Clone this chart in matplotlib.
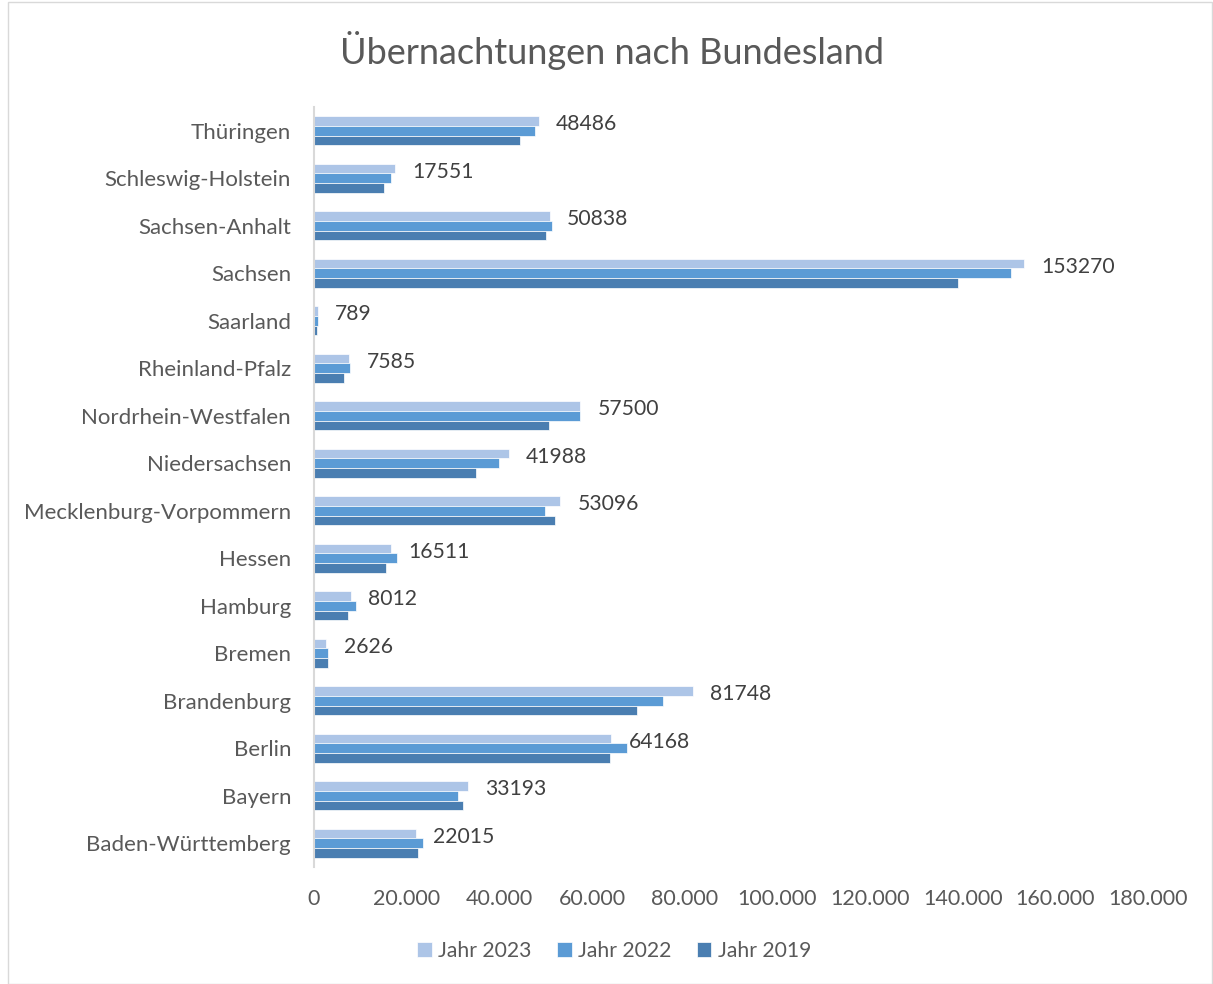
import matplotlib
matplotlib.use("Agg")
import matplotlib.pyplot as plt
import numpy as np
from matplotlib.patches import Rectangle

plt.rcParams['font.family'] = ['Lato', 'DejaVu Sans']

states = ["Baden-Württemberg", "Bayern", "Berlin", "Brandenburg", "Bremen", "Hamburg",
          "Hessen", "Mecklenburg-Vorpommern", "Niedersachsen", "Nordrhein-Westfalen",
          "Rheinland-Pfalz", "Saarland", "Sachsen", "Sachsen-Anhalt",
          "Schleswig-Holstein", "Thüringen"]
jahr_2023 = [22015, 33193, 64168, 81748, 2626, 8012, 16511, 53096, 41988, 57500,
             7585, 789, 153270, 50838, 17551, 48486]
jahr_2022 = [23530, 31080, 67560, 75400, 3090, 9070, 17920, 49930, 39930, 57450,
             7700, 800, 150440, 51370, 16550, 47700]
jahr_2019 = [22520, 32230, 63890, 69650, 2950, 7410, 15610, 52020, 34970, 50650,
             6550, 700, 139070, 50140, 15180, 44460]
series_names = ["Jahr 2023", "Jahr 2022", "Jahr 2019"]
colors = ["#ADC5E7", "#5B9BD5", "#4A7EB1"]
xticks = list(range(0, 180001, 20000))
xticklabels = ["0", "20.000", "40.000", "60.000", "80.000", "100.000", "120.000",
               "140.000", "160.000", "180.000"]

W, H = 1213, 984
fig = plt.figure(figsize=(W / 100, H / 100), dpi=100)
fig.patches.append(Rectangle((8 / W, 0.5 / H), (W - 9) / W, (H - 2) / H,
                             transform=fig.transFigure, fill=False,
                             edgecolor="#D9D9D9", linewidth=1))

ax = fig.add_axes([314 / W, (H - 867) / H, 834 / W, 760 / H])
y = np.arange(len(states))
h = 0.205
for vals, off, c, name in zip([jahr_2023, jahr_2022, jahr_2019], [h, 0, -h], colors, series_names):
    ax.barh(y + off, vals, height=h, color=c, edgecolor="white", linewidth=0.5, label=name)

for yi, v in zip(y, jahr_2023):
    ax.annotate(f"{v}", xy=(v, yi + h * 0.65), xytext=(12.5, 0), textcoords="offset points",
                va="center", ha="left", fontsize=15.2, color="#404040")

ax.set_xlim(0, 180000)
ax.set_ylim(-0.5, len(states) - 0.5)
ax.set_yticks(y)
ax.set_yticklabels(states, fontsize=16, color="#595959")
ax.set_xticks(xticks)
ax.set_xticklabels(xticklabels, fontsize=15.5, color="#595959")
ax.tick_params(axis="y", length=0, pad=16.5)
ax.tick_params(axis="x", length=0, pad=15.5)
for s in ["top", "right", "bottom"]:
    ax.spines[s].set_visible(False)
ax.spines["left"].set_color("#D9D9D9")
ax.spines["left"].set_linewidth(1.5)

fig.text(612 / W, 1 - 50 / H, "Übernachtungen nach Bundesland", ha="center", va="center",
         fontsize=26, color="#595959")

handles, labels = ax.get_legend_handles_labels()
fig.legend(handles, labels, loc="center", bbox_to_anchor=(614 / W, 1 - 951 / H), ncol=3,
           frameon=False, fontsize=15.2, labelcolor="#595959", handlelength=0.7,
           handleheight=0.7, handletextpad=0.3, columnspacing=1.2)

fig.savefig("out.png", dpi=100)
